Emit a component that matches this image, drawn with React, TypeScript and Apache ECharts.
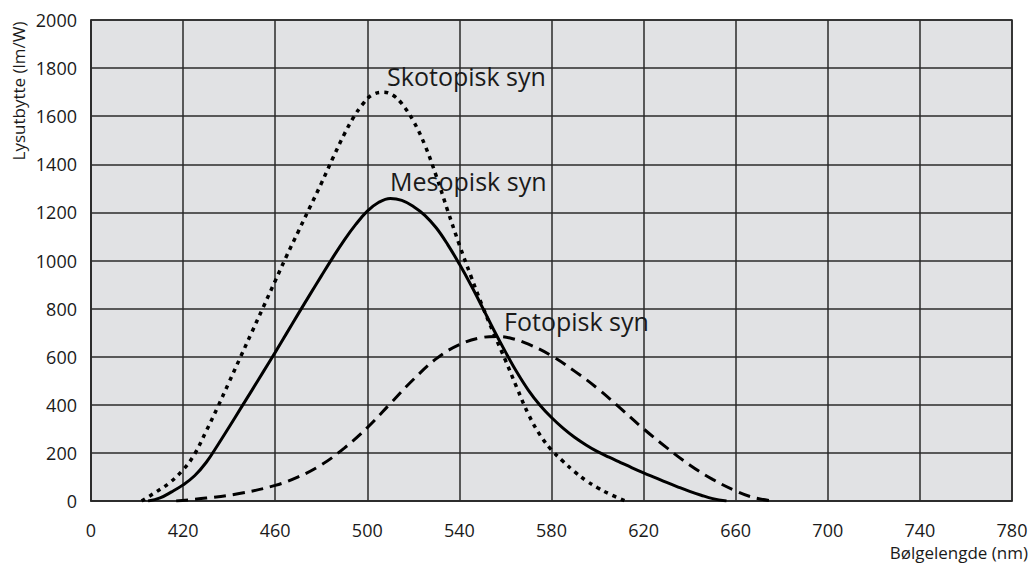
import React, { useEffect, useRef } from "react";
import * as echarts from "echarts";

const xTicks = [380, 420, 460, 500, 540, 580, 620, 660, 700, 740, 780];

const skotopisk: [number, number][] = [
  [402, 0], [407, 30], [414, 75], [420, 130], [425, 195], [430, 290], [435, 390],
  [440, 495], [445, 600], [450, 705], [455, 810], [460, 915], [465, 1020], [470, 1120],
  [475, 1220], [480, 1320], [485, 1425], [490, 1525], [494, 1595], [498, 1650],
  [502, 1688], [507, 1700], [511, 1688], [515, 1652], [520, 1580], [525, 1480],
  [530, 1350], [535, 1205], [540, 1065], [545, 935], [550, 810], [555, 695], [560, 585],
  [565, 470], [570, 360], [575, 275], [580, 212], [585, 165], [590, 122], [595, 85],
  [600, 55], [605, 30], [612, 0],
];

const mesopisk: [number, number][] = [
  [404.8, 0], [410, 13], [415, 38], [420, 67], [425, 105], [430, 160], [435, 232],
  [440, 308], [445, 385], [450, 462], [455, 540], [460, 618], [465, 698], [470, 778],
  [475, 857], [480, 935], [485, 1012], [490, 1085], [495, 1150], [500, 1205],
  [505, 1242], [510, 1258], [515, 1250], [520, 1225], [525, 1188], [530, 1135],
  [535, 1065], [540, 985], [545, 898], [550, 805], [555, 710], [560, 620], [565, 535],
  [570, 460], [575, 398], [580, 347], [585, 303], [590, 265], [595, 233], [600, 205],
  [605, 182], [610, 160], [615, 138], [620, 117], [625, 97], [630, 77], [635, 58],
  [640, 40], [645, 24], [650, 10], [656, 0],
];

const fotopisk: [number, number][] = [
  [417, 0], [430, 12], [445, 32], [460, 65], [470, 100], [480, 150], [490, 220],
  [500, 305], [510, 405], [520, 505], [530, 592], [540, 650], [550, 680], [556, 684],
  [562, 678], [570, 652], [580, 604], [590, 540], [600, 468], [610, 385], [620, 300],
  [630, 222], [640, 150], [650, 90], [660, 42], [668, 14], [676, 0],
];

const curveLabels: { name: string; coord: [number, number] }[] = [
  { name: "Skotopisk syn", coord: [508.6, 1767] },
  { name: "Mesopisk syn", coord: [509.9, 1331] },
  { name: "Fotopisk syn", coord: [559.4, 748] },
];

const FONT = "Open Sans";
const TEXT = "#1a1a1a";
const GRID = "#2a2a2a";

export default function App() {
  const ref = useRef<HTMLDivElement>(null);
  useEffect(() => {
    document.body.style.margin = "0";
    const chart = echarts.init(ref.current!, null, { renderer: "svg" });
    const labelMark = (i: number) => ({
      symbol: "circle",
      symbolSize: 0,
      silent: true,
      label: {
        show: true,
        position: "right",
        distance: 0,
        formatter: curveLabels[i].name,
        color: TEXT,
        fontFamily: FONT,
        fontSize: 25,
      },
      data: [{ coord: curveLabels[i].coord }],
    });
    chart.setOption({
      animation: false,
      textStyle: { fontFamily: FONT },
      grid: {
        left: 91,
        right: 20,
        top: 20,
        bottom: 64,
        show: true,
        backgroundColor: "#e1e2e4",
        borderColor: GRID,
        borderWidth: 1.5,
      },
      xAxis: {
        type: "value",
        min: 380,
        max: 780,
        interval: 40,
        axisLine: { show: true, lineStyle: { color: GRID, width: 1.5 } },
        axisTick: { show: false },
        splitLine: { show: true, lineStyle: { color: GRID, width: 1.5 } },
        axisLabel: {
          margin: 20,
          color: TEXT,
          fontFamily: FONT,
          fontSize: 18,
          formatter: (v: number) => (v === xTicks[0] ? "0" : String(v)),
        },
      },
      yAxis: {
        type: "value",
        min: 0,
        max: 2000,
        interval: 200,
        axisLine: { show: true, lineStyle: { color: GRID, width: 1.5 } },
        axisTick: { show: false },
        splitLine: { show: true, lineStyle: { color: GRID, width: 1.5 } },
        axisLabel: {
          margin: 14,
          color: TEXT,
          fontFamily: FONT,
          fontSize: 18,
          formatter: (v: number) => String(v),
        },
      },
      graphic: [
        {
          type: "text",
          x: 18,
          y: 91,
          rotation: Math.PI / 2,
          style: {
            text: "Lysutbytte (lm/W)",
            fill: TEXT,
            font: `17px "${FONT}"`,
            textAlign: "center",
            textVerticalAlign: "middle",
          },
        },
        {
          type: "text",
          x: 1028,
          y: 552,
          style: {
            text: "Bølgelengde (nm)",
            fill: TEXT,
            font: `17px "${FONT}"`,
            textAlign: "right",
            textVerticalAlign: "middle",
          },
        },
      ],
      series: [
        {
          name: "Skotopisk syn",
          type: "line",
          data: skotopisk,
          smooth: 0.4,
          showSymbol: false,
          lineStyle: { color: "#000", width: 3.5, type: [4, 5] },
          markPoint: labelMark(0),
        },
        {
          name: "Mesopisk syn",
          type: "line",
          data: mesopisk,
          smooth: 0.4,
          showSymbol: false,
          lineStyle: { color: "#000", width: 3 },
          markPoint: labelMark(1),
        },
        {
          name: "Fotopisk syn",
          type: "line",
          data: fotopisk,
          smooth: 0.4,
          showSymbol: false,
          lineStyle: { color: "#000", width: 3, type: [12, 7] },
          markPoint: labelMark(2),
        },
      ],
    });
    return () => chart.dispose();
  }, []);
  return <div ref={ref} style={{ width: 1032, height: 565 }} />;
}
